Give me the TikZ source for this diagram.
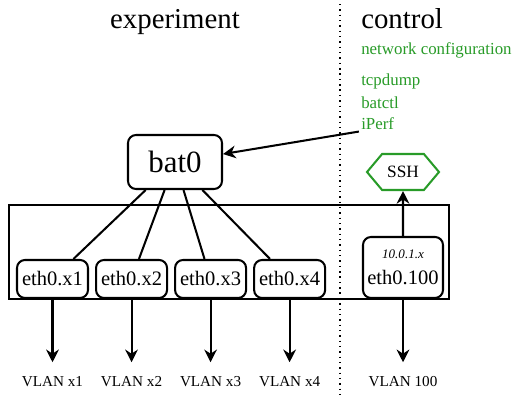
\documentclass[tikz,border=0pt]{standalone}
\usepackage{fontspec}
\setmainfont{Liberation Serif}
\usetikzlibrary{arrows.meta, positioning, shapes.symbols}
\definecolor{toolgreen}{RGB}{40,155,40}

\begin{document}
\begin{tikzpicture}[
    iface/.style={
        draw,
        rectangle,
        rounded corners=0.2cm,
        line width=1.45pt,
        minimum width=1.775cm,
        minimum height=0.95cm,
        inner sep=0pt,
        align=center,
        font=\fontsize{14.6}{18.5}\selectfont
    },
    heading/.style={
        inner sep=0pt,
        font=\fontsize{20.5}{24}\selectfont
    },
    tool/.style={
        anchor=base west,
        inner sep=1.5pt,
        text=toolgreen,
        font=\fontsize{12}{14}\selectfont
    },
    vlan/.style={
        inner sep=0pt,
        text height=1.45ex,
        text depth=0pt,
        font=\fontsize{10.8}{13}\selectfont
    },
    link/.style={
        line width=1.45pt
    },
    arrow/.style={
        -{Stealth[length=9pt, width=9pt]},
        line width=1.45pt
    },
    down/.style={
        arrow,
        shorten >=0.37cm
    }
]

\useasboundingbox (0,0) rectangle (12.875,-9.925);

% Headings and the split between both sides
\node[heading, anchor=base] (exp) at (4.375,-0.7) {experiment};
\node[heading, anchor=base west] (ctrl) at (9.025,-0.7) {control};
\draw[line width=1pt, dash pattern=on 1pt off 2.8pt] (8.5,-0.1) -- (8.5,-9.925);

% Tools on the control side
\node[tool] (netcfg) at (8.972,-1.36) {network configuration};
\node[tool] (tcpdump) at (8.972,-2.13) {tcpdump};
\node[tool] (batctl) at (8.972,-2.7) {batctl};
\node[tool] (iperf) at (8.972,-3.225) {iPerf};

% Bridge
\node[iface, minimum width=2.35cm, minimum height=1.35cm,
      font=\fontsize{22}{26}\selectfont] (bat0) at (4.375,-4.05) {bat0};
\draw[arrow] (iperf.south west) -- (bat0);

% Box round the interfaces
\draw[line width=1.45pt] (0.225,-5.125) rectangle (11.225,-7.475);

% Interfaces
\node[iface, anchor=south] (eth1) at (1.3125,-7.475) {eth0.x1};
\node[iface, right=0.15cm of eth1] (eth2) {eth0.x2};
\node[iface, right=0.15cm of eth2] (eth3) {eth0.x3};
\node[iface, right=0.15cm of eth3] (eth4) {eth0.x4};
\node[iface, anchor=south, minimum width=2cm, minimum height=1.525cm] (eth100)
    at (10.075,-7.475) {{\fontsize{9.3}{11}\selectfont\itshape 10.0.1.x}\\eth0.100};

\draw[link] (bat0) -- (eth1);
\draw[link] (bat0) -- (eth2);
\draw[link] (bat0) -- (eth3);
\draw[link] (bat0) -- (eth4);

% SSH
\node[signal, signal to=east and west, signal pointer angle=100,
      draw=toolgreen, line width=1.45pt, minimum width=1.8cm, minimum height=0.9cm,
      font=\fontsize{12.3}{14}\selectfont] (ssh) at (10.075,-4.3) {SSH};
\draw[arrow] (eth100) -- (ssh);

% VLANs
\node[vlan] (vlan1) at (eth1 |- 0,-9.55) {VLAN x1};
\node[vlan] (vlan2) at (eth2 |- 0,-9.55) {VLAN x2};
\node[vlan] (vlan3) at (eth3 |- 0,-9.55) {VLAN x3};
\node[vlan] (vlan4) at (eth4 |- 0,-9.55) {VLAN x4};
\node[vlan] (vlan100) at (eth100 |- 0,-9.55) {VLAN 100};

\draw[down] (eth1) -- (vlan1);
\draw[down] (eth2) -- (vlan2);
\draw[down] (eth3) -- (vlan3);
\draw[down] (eth4) -- (vlan4);
\draw[down] (eth100) -- (vlan100);

\end{tikzpicture}
\end{document}
